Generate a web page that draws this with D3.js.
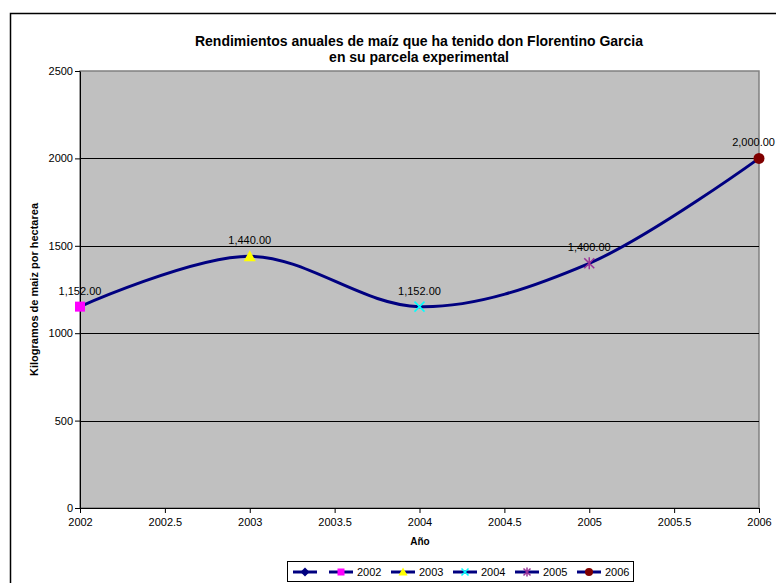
<!DOCTYPE html>
<html>
<head>
<meta charset="utf-8">
<script src="https://cdn.jsdelivr.net/npm/d3@7"></script>
<style>
  html, body { margin: 0; padding: 0; background: #ffffff; }
  svg { display: block; font-family: Arial, "Liberation Sans", sans-serif; }
</style>
</head>
<body>
<svg id="chart" width="776" height="583"></svg>
<script>
// Annual maize yields (kg/ha)
const years = [2002, 2003, 2004, 2005, 2006];
const yields = [1152, 1440, 1152, 1400, 2000];
const seriesNames = ["2002", "2003", "2004", "2005", "2006"];
const xTicks = [2002, 2002.5, 2003, 2003.5, 2004, 2004.5, 2005, 2005.5, 2006];
const yTicks = [0, 500, 1000, 1500, 2000, 2500];
const titleLines = ["Rendimientos anuales de maíz que ha tenido don Florentino Garcia", "en su parcela experimental"];

const markerStyles = [
  { shape: "square", color: "#FF00FF" },
  { shape: "triangle", color: "#FFFF00" },
  { shape: "x", color: "#00FFFF" },
  { shape: "star", color: "#993399" },
  { shape: "circle", color: "#800000" }
];
const lineColor = "#000080";

const W = 776;
const svg = d3.select("#chart");
const plot = { left: 80, right: 759, top: 71, bottom: 508 };

const x = d3.scaleLinear().domain([2002, 2006]).range([plot.left, plot.right]);
const y = d3.scaleLinear().domain([0, 2500]).range([plot.bottom, plot.top]);

// Outer chart frame
svg.append("rect")
  .attr("x", 10.5).attr("y", 13.5).attr("width", 800).attr("height", 600)
  .attr("fill", "#ffffff").attr("stroke", "#000").attr("stroke-width", 1.5);

// Plot area
svg.append("rect")
  .attr("x", plot.left).attr("y", plot.top)
  .attr("width", plot.right - plot.left).attr("height", plot.bottom - plot.top)
  .attr("fill", "#C0C0C0").attr("stroke", "#808080").attr("stroke-width", 1.5);

// Horizontal gridlines
svg.append("g").selectAll("line")
  .data(yTicks.filter(d => d > 0 && d < 2500))
  .join("line")
  .attr("x1", plot.left).attr("x2", plot.right)
  .attr("y1", d => Math.round(y(d)) + 0.5).attr("y2", d => Math.round(y(d)) + 0.5)
  .attr("stroke", "#000").attr("stroke-width", 1);

// Axes
const xAxis = d3.axisBottom(x).tickValues(xTicks).tickSize(5).tickSizeOuter(0)
  .tickFormat(d => String(d));
const yAxis = d3.axisLeft(y).tickValues(yTicks).tickSize(5).tickSizeOuter(0)
  .tickFormat(d => String(d));

const gx = svg.append("g").attr("transform", `translate(0,${plot.bottom})`).call(xAxis);
const gy = svg.append("g").attr("transform", `translate(${plot.left},0)`).call(yAxis);
[gx, gy].forEach(g => {
  g.select(".domain").attr("stroke", "#000");
  g.selectAll(".tick line").attr("stroke", "#000");
  g.selectAll(".tick text").attr("fill", "#000")
    .style("font-size", "11px").style("font-family", "Arial, 'Liberation Sans', sans-serif");
});
gx.selectAll(".tick text").attr("dy", "0.71em").attr("y", 10);
gy.selectAll(".tick text").attr("x", -7);

// Titles
const title = svg.append("text")
  .attr("text-anchor", "middle")
  .style("font-size", "14px").style("font-weight", "bold");
titleLines.forEach((t, i) => {
  title.append("tspan").attr("x", 419).attr("y", 46 + i * 16).text(t);
});

svg.append("text")
  .attr("x", 420).attr("y", 545)
  .attr("text-anchor", "middle")
  .style("font-size", "10px").style("font-weight", "bold")
  .text("Año");

svg.append("text")
  .attr("transform", `translate(38,${(plot.top + plot.bottom) / 2}) rotate(-90)`)
  .attr("text-anchor", "middle")
  .style("font-size", "11px").style("font-weight", "bold")
  .text("Kilogramos de maiz por hectarea");

// Smoothed yield line
const pts = years.map((yr, i) => [yr, yields[i]]);
const line = d3.line().x(d => x(d[0])).y(d => y(d[1])).curve(d3.curveCatmullRom.alpha(0.5));
svg.append("path")
  .datum(pts)
  .attr("d", line)
  .attr("fill", "none").attr("stroke", lineColor).attr("stroke-width", 3);

// Marker drawing
function drawMarker(g, style, cx, cy, size) {
  const s = size;
  if (style.shape === "square") {
    g.append("rect").attr("x", cx - s).attr("y", cy - s).attr("width", 2 * s).attr("height", 2 * s)
      .attr("fill", style.color);
  } else if (style.shape === "triangle") {
    g.append("path").attr("d", `M${cx},${cy - s - 1}L${cx + s + 1},${cy + s}L${cx - s - 1},${cy + s}Z`)
      .attr("fill", style.color);
  } else if (style.shape === "x") {
    g.append("path").attr("d", `M${cx - s},${cy - s}L${cx + s},${cy + s}M${cx - s},${cy + s}L${cx + s},${cy - s}`)
      .attr("stroke", style.color).attr("stroke-width", 1.5).attr("fill", "none");
  } else if (style.shape === "star") {
    g.append("path").attr("d",
      `M${cx - s},${cy - s}L${cx + s},${cy + s}M${cx - s},${cy + s}L${cx + s},${cy - s}M${cx},${cy - s - 1}L${cx},${cy + s + 1}`)
      .attr("stroke", style.color).attr("stroke-width", 1.5).attr("fill", "none");
  } else if (style.shape === "circle") {
    g.append("circle").attr("cx", cx).attr("cy", cy).attr("r", s + 0.5).attr("fill", style.color);
  } else if (style.shape === "diamond") {
    g.append("path").attr("d", `M${cx},${cy - s - 1}L${cx + s + 1},${cy}L${cx},${cy + s + 1}L${cx - s - 1},${cy}Z`)
      .attr("fill", style.color);
  }
}

// Point markers and value labels
const marks = svg.append("g");
years.forEach((yr, i) => {
  drawMarker(marks, markerStyles[i], x(yr), y(yields[i]), 5);
});
svg.append("g").selectAll("text")
  .data(years.map((yr, i) => ({ yr, v: yields[i] })))
  .join("text")
  .attr("x", d => x(d.yr))
  .attr("y", d => y(d.v) - 12)
  .attr("text-anchor", "middle")
  .style("font-size", "11px")
  .attr("fill", "#000")
  .text(d => d3.format(",.2f")(d.v))
  .each(function () {
    // keep labels inside the visible width
    const w = this.getComputedTextLength();
    const cx = +this.getAttribute("x");
    if (cx + w / 2 > W - 1) this.setAttribute("x", W - 1 - w / 2);
  });

// Legend
const legend = svg.append("g");
legend.append("rect")
  .attr("x", 287.5).attr("y", 561.5).attr("width", 346).attr("height", 20)
  .attr("fill", "#fff").attr("stroke", "#000").attr("stroke-width", 1);
const ly = 572;
const legendItems = [{ name: "", style: { shape: "diamond", color: lineColor } }]
  .concat(seriesNames.map((n, i) => ({ name: n, style: markerStyles[i] })));
legendItems.forEach((item, i) => {
  const x0 = i === 0 ? 293 : 329 + (i - 1) * 62;
  const g = legend.append("g");
  g.append("line").attr("x1", x0).attr("x2", x0 + 24).attr("y1", ly).attr("y2", ly)
    .attr("stroke", lineColor).attr("stroke-width", 3);
  drawMarker(g, item.style, x0 + 12, ly, 3.5);
  if (item.name) {
    g.append("text").attr("x", x0 + 28).attr("y", ly + 4)
      .style("font-size", "11px").attr("fill", "#000").text(item.name);
  }
});
</script>
</body>
</html>
